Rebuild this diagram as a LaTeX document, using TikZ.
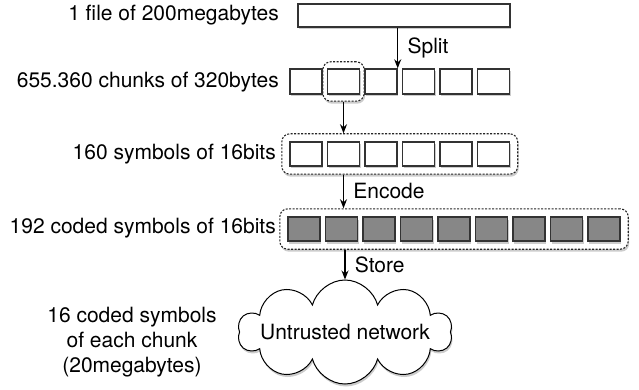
\documentclass[tikz,border=0pt]{standalone}
\usepackage{fontspec}
\setmainfont{TeX Gyre Heros}
\usetikzlibrary{positioning, fit, backgrounds, shapes.symbols, shadows, arrows.meta}

\tikzset{
  blk/.style={draw=black!80, line width=1.4pt, fill=white, minimum width=32pt,
    minimum height=24pt, inner sep=0pt,
    drop shadow={opacity=0.4, shadow xshift=1pt, shadow yshift=-2.5pt}},
  coded/.style={blk, fill=black!47},
  grp/.style={draw=black!85, line width=1.1pt, dash pattern=on 2pt off 1.5pt,
    rounded corners=8pt, fill=white, inner xsep=7.5pt, inner ysep=7.5pt,
    drop shadow={opacity=0.4, shadow xshift=1pt, shadow yshift=-2.5pt}},
  lbl/.style={inner sep=0pt, anchor=east},
  flow/.style={-{Stealth[length=9pt, width=7pt]}, line width=1.1pt}
}

\begin{document}
\begin{tikzpicture}[x=1pt, y=-1pt, node distance=37.5pt, on grid,
    font=\fontsize{21}{25}\selectfont]
    \useasboundingbox (0,0) rectangle (639,390);

    % the file
    \node[blk, minimum width=212pt, minimum height=23pt] (file) at (404,15.5) {};
    \node[lbl] (filelbl) at (279,15) {1 file of 200megabytes};

    % chunks
    \node[blk, minimum height=25pt] (c1) at (306,81.5) {};
    \node[blk, minimum height=25pt] (c2) [right=of c1] {};
    \node[blk, minimum height=25pt] (c3) [right=of c2] {};
    \node[blk, minimum height=25pt] (c4) [right=of c3] {};
    \node[blk, minimum height=25pt] (c5) [right=of c4] {};
    \node[blk, minimum height=25pt] (c6) [right=of c5] {};
    \node[lbl] (chunklbl) at (279,82) {655.360 chunks of 320bytes};

    % symbols of one chunk
    \node[blk] (s1) at (306,154) {};
    \node[blk] (s2) [right=of s1] {};
    \node[blk] (s3) [right=of s2] {};
    \node[blk] (s4) [right=of s3] {};
    \node[blk] (s5) [right=of s4] {};
    \node[blk] (s6) [right=of s5] {};
    \node[lbl] (symlbl) at (276,154) {160 symbols of 16bits};

    % coded symbols
    \node[coded] (e1) at (304,229) {};
    \node[coded] (e2) [right=of e1] {};
    \node[coded] (e3) [right=of e2] {};
    \node[coded] (e4) [right=of e3] {};
    \node[coded] (e5) [right=of e4] {};
    \node[coded] (e6) [right=of e5] {};
    \node[coded] (e7) [right=of e6] {};
    \node[coded] (e8) [right=of e7] {};
    \node[coded] (e9) [right=of e8] {};
    \node[lbl] (codedlbl) at (276,228) {192 coded symbols of 16bits};

    \begin{scope}[on background layer]
        \node[grp, fit=(c2), inner xsep=4pt, inner ysep=6.5pt] (pick) {};
        \node[grp, fit=(s1)(s6)] (symgrp) {};
        \node[grp, fit=(e1)(e9)] (codedgrp) {};
    \end{scope}

    % storage
    \node[cloud, draw, line width=1pt, fill=white, cloud puffs=10,
        minimum width=214pt, minimum height=104pt, inner sep=0pt,
        drop shadow={opacity=0.4, shadow xshift=1pt, shadow yshift=-2.5pt},
        label=center:Untrusted network] (net) at (345,332) {};
    \node[align=center] (netlbl) at (132,342)
        {16 coded symbols\\of each chunk\\(20megabytes)};

    \draw[flow] (file.south -| c3.east) -- node[right=6pt] {Split} (c3.north east);
    \draw[flow] (pick.south) -- (symgrp.north -| pick.south);
    \draw[flow] (symgrp.south -| pick.south) -- node[right=6pt] {Encode} (codedgrp.north -| pick.south);
    \draw[flow] (codedgrp.south -| net.north) -- node[right=6pt] {Store} (net.north);

\end{tikzpicture}
\end{document}
